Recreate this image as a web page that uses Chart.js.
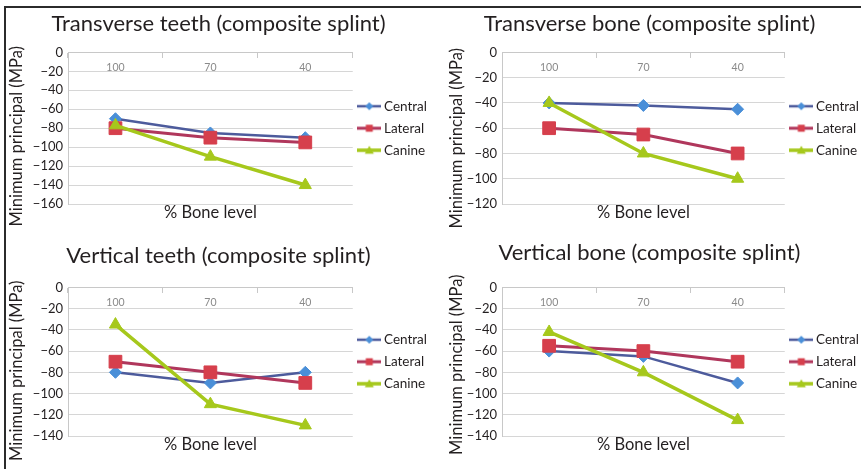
<!DOCTYPE html>
<html>
<head>
<meta charset="utf-8">
<script src="https://cdn.jsdelivr.net/npm/chart.js@4/dist/chart.umd.min.js"></script>
<style>
  html, body { margin: 0; padding: 0; background: #fff; }
  #wrap { position: relative; width: 861px; height: 469px; overflow: hidden; background: #fff; }
  .panel { position: absolute; }
  #frameTop { position: absolute; left: 4px; top: 6px; width: 857px; height: 2px; background: #2b2b2b; }
  #frameLeft { position: absolute; left: 4px; top: 6px; width: 2px; height: 463px; background: #2b2b2b; }
</style>
</head>
<body>
<div id="wrap">
  <div class="panel" style="left:0;top:0;width:430px;height:235px"><canvas id="c0" width="430" height="235"></canvas></div>
  <div class="panel" style="left:430px;top:0;width:431px;height:235px"><canvas id="c1" width="431" height="235"></canvas></div>
  <div class="panel" style="left:0;top:235px;width:430px;height:234px"><canvas id="c2" width="430" height="234"></canvas></div>
  <div class="panel" style="left:430px;top:235px;width:431px;height:234px"><canvas id="c3" width="431" height="234"></canvas></div>
  <div id="frameTop"></div>
  <div id="frameLeft"></div>
</div>
<script>
// ---------------- DATA ----------------
const categories = ['100', '70', '40'];
const seriesNames = ['Central', 'Lateral', 'Canine'];
const panelTitles = [
  'Transverse teeth (composite splint)',
  'Transverse bone (composite splint)',
  'Vertical teeth (composite splint)',
  'Vertical bone (composite splint)'
];
const yAxisTitle = 'Minimum principal (MPa)';
const xAxisTitle = '% Bone level';
const yMinValues = [-160, -120, -140, -140];
const yStep = 20;

const transverseTeethCentral = [-70, -85, -90];
const transverseTeethLateral = [-80, -90, -95];
const transverseTeethCanine  = [-77, -110, -140];

const transverseBoneCentral = [-40, -42, -45];
const transverseBoneLateral = [-60, -65, -80];
const transverseBoneCanine  = [-40, -80, -100];

const verticalTeethCentral = [-80, -90, -80];
const verticalTeethLateral = [-70, -80, -90];
const verticalTeethCanine  = [-35, -110, -130];

const verticalBoneCentral = [-60, -65, -90];
const verticalBoneLateral = [-55, -60, -70];
const verticalBoneCanine  = [-42, -80, -125];

const panelSeries = [
  [transverseTeethCentral, transverseTeethLateral, transverseTeethCanine],
  [transverseBoneCentral, transverseBoneLateral, transverseBoneCanine],
  [verticalTeethCentral, verticalTeethLateral, verticalTeethCanine],
  [verticalBoneCentral, verticalBoneLateral, verticalBoneCanine]
];

// ---------------- STYLE ----------------
const FONT = 'Lato, "Open Sans", "DejaVu Sans", sans-serif';
const TEXT = '#231f20';
const styles = [
  { line: '#4d5b9c', point: '#4a8fd8', pointStyle: 'rectRot', radius: 6, width: 2.5 },
  { line: '#b0375c', point: '#d63f4c', pointStyle: 'rect', radius: 9, width: 3 },
  { line: '#a6c81c', point: '#a6c81c', pointStyle: 'triangle', radius: 7, width: 3.5 }
];
const layouts = [
  { left: 68, yTitleX: 17, yTitleShift: 8, tTop: 11, tBottom: 15, bottom: 31, xPad: 12, right: -7 },
  { left: 72, yTitleX: 27, yTitleShift: 10, tTop: 11, tBottom: 15, bottom: 31, xPad: 12, right: -8 },
  { left: 68, yTitleX: 17, yTitleShift: 9, tTop: 8, tBottom: 18, bottom: 33, xPad: 14, right: -7 },
  { left: 72, yTitleX: 27, yTitleShift: 3, tTop: 5, tBottom: 21, bottom: 33, xPad: 14, right: -8 }
];

function legendIcon(st) {
  const c = document.createElement('canvas');
  c.width = 24; c.height = 12;
  const g = c.getContext('2d');
  g.strokeStyle = st.line; g.lineWidth = st.width;
  g.beginPath(); g.moveTo(0, 6); g.lineTo(24, 6); g.stroke();
  g.fillStyle = st.point;
  g.beginPath();
  if (st.pointStyle === 'rectRot') { g.moveTo(12, 2); g.lineTo(16, 6); g.lineTo(12, 10); g.lineTo(8, 6); }
  else if (st.pointStyle === 'rect') { g.rect(8.5, 2.5, 7, 7); }
  else { g.moveTo(12, 1.5); g.lineTo(16.5, 9.5); g.lineTo(7.5, 9.5); }
  g.closePath(); g.fill();
  return c;
}
const icons = styles.map(legendIcon);

function fmt(v) { return v < 0 ? '\u2212' + Math.abs(v) : String(v); }

// y-axis title drawn as canvas text next to the y scale
function yTitlePlugin(L) {
  return {
    id: 'yTitleText',
    afterDraw(chart) {
      const { ctx, chartArea } = chart;
      ctx.save();
      ctx.translate(L.yTitleX, (chartArea.top + chartArea.bottom) / 2 + L.yTitleShift);
      ctx.rotate(-Math.PI / 2);
      ctx.font = '16.5px ' + FONT;
      ctx.fillStyle = TEXT;
      ctx.textAlign = 'center';
      ctx.textBaseline = 'middle';
      ctx.fillText(yAxisTitle, 0, 0);
      ctx.restore();
    }
  };
}

panelSeries.forEach((series, p) => {
  const L = layouts[p];
  const datasets = series.map((vals, i) => ({
    label: seriesNames[i],
    data: vals,
    borderColor: styles[i].line,
    backgroundColor: styles[i].point,
    pointBackgroundColor: styles[i].point,
    pointBorderColor: styles[i].point,
    pointStyle: styles[i].pointStyle,
    pointRadius: styles[i].radius,
    borderWidth: styles[i].width,
    pointBorderWidth: 1,
    tension: 0,
    order: 3 - i
  }));
  new Chart(document.getElementById('c' + p), {
    type: 'line',
    data: { labels: categories, datasets },
    plugins: [yTitlePlugin(L)],
    options: {
      responsive: false,
      animation: false,
      devicePixelRatio: 1,
      layout: { padding: { left: 0, top: 0, bottom: 0, right: L.right } },
      plugins: {
        tooltip: { enabled: false },
        title: {
          display: true,
          text: panelTitles[p],
          color: TEXT,
          font: { family: FONT, size: 22, weight: 'normal' },
          padding: { top: L.tTop, bottom: L.tBottom }
        },
        legend: {
          position: 'right',
          align: 'center',
          fullSize: false,
          labels: {
            usePointStyle: true,
            pointStyleWidth: 16,
            padding: 8.5,
            color: TEXT,
            font: { family: FONT, size: 13.5 },
            generateLabels: (chart) => chart.data.datasets.map((ds, i) => ({
              text: ds.label,
              pointStyle: icons[i],
              fontColor: TEXT,
              fillStyle: ds.backgroundColor,
              strokeStyle: ds.borderColor,
              lineWidth: 0,
              hidden: false,
              datasetIndex: i
            }))
          }
        }
      },
      scales: {
        x: {
          type: 'category',
          position: { y: 0 },
          offset: true,
          grid: { offset: true, drawOnChartArea: false, drawTicks: true, tickLength: 5, color: '#c8c8c8' },
          border: { display: true, color: '#c8c8c8' },
          ticks: { color: '#8a8a8a', font: { family: FONT, size: 10.5 }, padding: 4, maxRotation: 0 }
        },
        x2: {
          type: 'category',
          position: 'bottom',
          labels: categories,
          offset: true,
          grid: { display: false, drawTicks: false },
          border: { display: false },
          ticks: { display: false },
          title: {
            display: true,
            text: xAxisTitle,
            color: TEXT,
            font: { family: FONT, size: 16.5 },
            padding: { top: 0, bottom: L.xPad }
          },
          afterFit: (s) => { s.height = L.bottom; }
        },
        y: {
          min: yMinValues[p],
          max: 0,
          ticks: { stepSize: yStep, color: TEXT, font: { family: FONT, size: 13 }, padding: 5, callback: (v) => fmt(v) },
          grid: { color: '#d6d6d6', drawTicks: false, lineWidth: 1 },
          border: { display: true, color: '#c8c8c8' },
          title: { display: false },
          afterFit: (s) => { s.width = L.left; }
        }
      }
    }
  });
});
</script>
</body>
</html>
